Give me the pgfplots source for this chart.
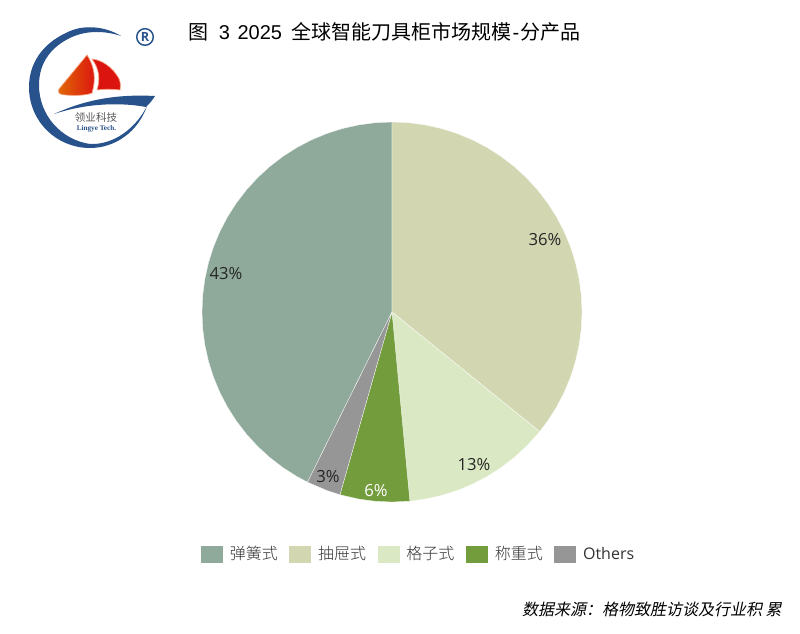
\documentclass[border=0pt]{standalone}
\usepackage{fontspec}
\usepackage{pgfplots}
\pgfplotsset{compat=1.18}
\usepgfplotslibrary{polar}
\setmainfont{Open Sans}
\newfontfamily\cjk{Noto Sans CJK SC}
\newfontfamily\cjklight{Noto Sans CJK SC Light}
\newfontfamily\cjki[FakeSlant=0.2]{Noto Sans CJK SC}
\newfontfamily\lat{Liberation Sans}
\newfontfamily\logoserif{Liberation Serif}
\definecolor{sA}{HTML}{8FAA9A}
\definecolor{sB}{HTML}{D3D7B1}
\definecolor{sC}{HTML}{DAE8C4}
\definecolor{sD}{HTML}{739D3D}
\definecolor{sE}{HTML}{969696}
\definecolor{logoblue}{HTML}{28528C}
\definecolor{sailO}{HTML}{E06A05}
\definecolor{sailR}{HTML}{DC1410}
\definecolor{sailE}{HTML}{F6A583}
\begin{document}
\begin{tikzpicture}[x=0.75pt,y=-0.75pt]
\fill[white] (0,0) rectangle (800,634);
% logo
\fill[logoblue] (121,36) .. controls (105,26) and (82,24) .. (66,33) .. controls (42,44) and (29,64) .. (29,87) .. controls (29,122) and (57,148) .. (90,148) .. controls (115,148) and (138,132) .. (147,106) .. controls (136,128) and (114,145) .. (90,144) .. controls (62,140) and (39,116) .. (39,85) .. controls (39,62) and (52,46) .. (72,37) .. controls (88,30) and (106,31) .. (121,36) -- cycle;
\fill[logoblue] (54,114) .. controls (85,100) and (115,94) .. (155,96) .. controls (152,101) and (149,104) .. (146,107) .. controls (125,103) and (90,102) .. (54,114) -- cycle;
\shade[left color=sailO, right color=sailR, draw=sailE, line width=0.5pt] (87,55) -- (59,89) .. controls (57,93) and (60,95) .. (66,95) .. controls (76,96) and (88,95) .. (92,93) .. controls (96,80) and (95,67) .. (87,55) -- cycle;
\fill[sailR, draw=sailE, line width=0.5pt] (92,59) .. controls (100,70) and (100,80) .. (97,90) .. controls (105,89) and (113,89) .. (120,90) .. controls (121,84) and (120,80) .. (118,77) .. controls (112,67) and (102,60) .. (92,59) -- cycle;
\draw[logoblue, line width=1.1pt] (145,37) circle[radius=8.3];
\node[font=\bfseries\fontsize{9.5}{10}\selectfont, text=logoblue, inner sep=0] at (145,37) {R};
\node[font=\cjk\fontsize{7.9}{8}\selectfont, text=black!65, inner sep=0] at (96,118) {领业科技};
\node[font=\logoserif\bfseries\fontsize{5.4}{6}\selectfont, text=logoblue, inner sep=0] at (96.5,128.5) {Lingye Tech.};
% title
\node[anchor=west, font=\cjk\fontsize{15}{16}\selectfont, inner sep=0] at (188,32) {图\hspace{8pt}{\lat 3\hspace{1.5pt} 2025}\hspace{3.75pt} 全球智能刀具柜市场规模{\lat\hspace{0.7pt}-\hspace{0.7pt}}分产品};
% source
\node[anchor=east, font=\cjki\fontsize{12}{14}\selectfont, inner sep=0] at (782,609) {数据来源：格物致胜访谈及行业积 累};
\begin{polaraxis}[
  at={(294pt,-234pt)}, anchor=center,
  scale only axis, width=285pt, height=285pt,
  hide axis, clip=false,
  ymin=0, ymax=1,
  legend columns=5,
  legend cell align=left,
  area legend,
  legend style={draw=none, fill=none, at={(axis description cs:-0.0024,-0.137)}, anchor=west, inner sep=0pt, outer sep=0pt,
    font=\cjklight\fontsize{12}{13}\selectfont, text=black!80},
  legend image code/.code={\fill[#1,draw=none] (0pt,-6.4pt) rectangle (16.5pt,6.4pt); \path[draw=none,fill=none] (0pt,0pt) -- (19.5pt,0pt);},
  /tikz/every even column/.append style={column sep=6.75pt},
]
% 弹簧式 42.7
\addplot[fill=sA, draw=white, line width=0.2pt] coordinates {(0,0) (-116.4,1) (-120,1) (-125,1) (-130,1) (-135,1) (-140,1) (-145,1) (-150,1) (-155,1) (-160,1) (-165,1) (-170,1) (-175,1) (-180,1) (-185,1) (-190,1) (-195,1) (-200,1) (-205,1) (-210,1) (-215,1) (-220,1) (-225,1) (-230,1) (-235,1) (-240,1) (-245,1) (-250,1) (-255,1) (-260,1) (-265,1) (-270,1) (0,0)};
\addlegendentry{弹簧式}
% 抽屉式 35.8
\addplot[fill=sB, draw=white, line width=0.2pt] coordinates {(0,0) (90,1) (85,1) (80,1) (75,1) (70,1) (65,1) (60,1) (55,1) (50,1) (45,1) (40,1) (35,1) (30,1) (25,1) (20,1) (15,1) (10,1) (5,1) (0,1) (-5,1) (-10,1) (-15,1) (-20,1) (-25,1) (-30,1) (-35,1) (-39,1) (0,0)};
\addlegendentry{抽屉式}
% 格子式 12.7
\addplot[fill=sC, draw=white, line width=0.2pt] coordinates {(0,0) (-39,1) (-40,1) (-45,1) (-50,1) (-55,1) (-60,1) (-65,1) (-70,1) (-75,1) (-80,1) (-84.6,1) (0,0)};
\addlegendentry{格子式}
% 称重式 5.9
\addplot[fill=sD, draw=white, line width=0.2pt] coordinates {(0,0) (-84.6,1) (-85,1) (-90,1) (-95,1) (-100,1) (-105.9,1) (0,0)};
\addlegendentry{称重式}
% Others 2.9
\addplot[fill=sE, draw=white, line width=0.2pt] coordinates {(0,0) (-105.9,1) (-110,1) (-116.4,1) (0,0)};
\addlegendentry{{\fontspec{Open Sans}Others}}
\end{polaraxis}
\node[font=\fontsize{12.5}{13}\selectfont, text=black!85, inner sep=0] at (545,240) {36\%};
\node[font=\fontsize{12.5}{13}\selectfont, text=black!85, inner sep=0] at (474,465) {13\%};
\node[font=\fontsize{12.5}{13}\selectfont, text=white, inner sep=0] at (376,491) {6\%};
\node[font=\fontsize{12.5}{13}\selectfont, text=black!85, inner sep=0] at (328,477) {3\%};
\node[font=\fontsize{12.5}{13}\selectfont, text=black!85, inner sep=0] at (226,274) {43\%};
\end{tikzpicture}
\end{document}
